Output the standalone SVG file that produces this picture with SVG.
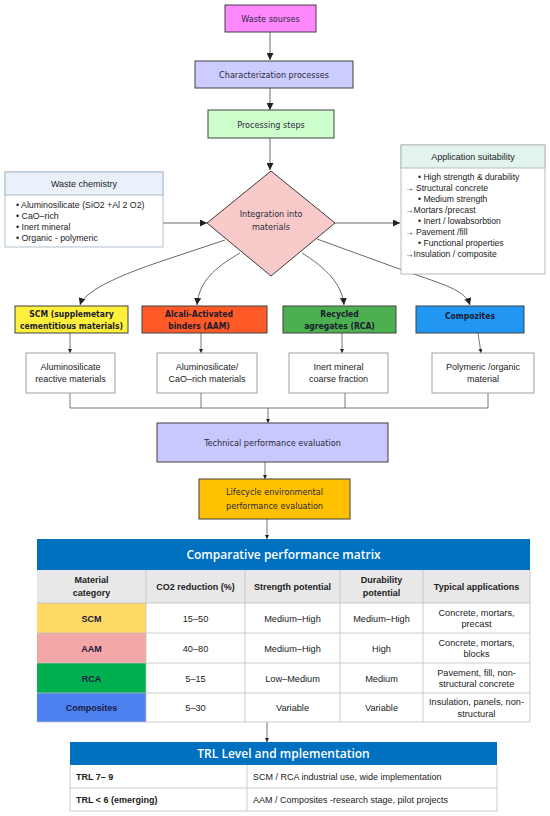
<svg xmlns="http://www.w3.org/2000/svg" width="550" height="816" viewBox="0 0 550 816">
<defs>
<marker id="ah" viewBox="0 0 10 10" refX="10" refY="5" markerWidth="7" markerHeight="7" markerUnits="userSpaceOnUse" orient="auto">
<path d="M0,0 L10,5 L0,10 z" fill="#222"/>
</marker>
<marker id="ahs" viewBox="0 0 10 10" refX="10" refY="5" markerWidth="4" markerHeight="4" markerUnits="userSpaceOnUse" orient="auto">
<path d="M0,0 L10,5 L0,10 z" fill="#222"/>
</marker>
</defs>
<style>
.fb{stroke:#404040;stroke-width:1}
.ft{font-family:"DejaVu Sans Condensed","DejaVu Sans",sans-serif;font-size:9px;fill:#2a2a3a;text-anchor:middle}
.cb{font-family:"DejaVu Sans Condensed","DejaVu Sans",sans-serif;font-size:8.5px;font-weight:bold;fill:#1a1a2e;text-anchor:middle}
.at{font-family:"Liberation Sans",Arial,sans-serif;font-size:9px;fill:#222;text-anchor:middle}
.lt{font-family:"Liberation Sans",Arial,sans-serif;font-size:8.8px;fill:#222}
.la{font-family:"Liberation Sans",Arial,sans-serif;font-size:8.6px;fill:#222}
.sub{fill:#fff;stroke:#888;stroke-width:0.8}
.ln{fill:none;stroke:#444;stroke-width:0.8}
.lnf{fill:none;stroke:#555;stroke-width:0.8}
.tc{fill:none;stroke:#bfbfbf;stroke-width:0.8}
.th{font-family:"Liberation Sans",Arial,sans-serif;font-size:9px;font-weight:bold;fill:#222;text-anchor:middle}
.td{font-family:"Liberation Sans",Arial,sans-serif;font-size:9.2px;fill:#222;text-anchor:middle}
.tk{font-family:"Liberation Sans",Arial,sans-serif;font-size:9px;font-weight:bold;fill:#1a1a40;text-anchor:middle}
.tt{font-family:"Open Sans","Noto Sans",sans-serif;font-size:12px;font-weight:600;fill:#fff;text-anchor:middle}
.tl{font-family:"Liberation Sans",Arial,sans-serif;font-size:9px;fill:#222}
</style>
<rect width="550" height="816" fill="#fff"/>

<g id="connectors">
<line class="ln" x1="270" y1="32" x2="270" y2="60" marker-end="url(#ah)"/>
<line class="ln" x1="270" y1="88" x2="270" y2="110" marker-end="url(#ah)"/>
<line class="ln" x1="270" y1="138" x2="270" y2="170" marker-end="url(#ah)"/>
<line class="ln" x1="163" y1="223" x2="207" y2="223" marker-end="url(#ah)"/>
<line class="ln" x1="335" y1="223" x2="400" y2="223" marker-end="url(#ah)"/>
<path class="ln" d="M225,240 L165,260 Q86,286 80,305" marker-end="url(#ah)"/>
<path class="ln" d="M240,253 C214,268 199,282 197,305" marker-end="url(#ah)"/>
<path class="ln" d="M302,253 C326,268 342,284 344,305" marker-end="url(#ah)"/>
<path class="ln" d="M317,239 L405,271 C445,285 465,290 470,305" marker-end="url(#ah)"/>
<line class="lnf" x1="70" y1="333" x2="70" y2="353" marker-end="url(#ahs)"/>
<line class="lnf" x1="201" y1="333" x2="201" y2="353" marker-end="url(#ahs)"/>
<line class="lnf" x1="342" y1="333" x2="342" y2="353" marker-end="url(#ahs)"/>
<line class="lnf" x1="478" y1="333" x2="481" y2="353" marker-end="url(#ahs)"/>
<path class="lnf" d="M70,393 V408 M201,393 V408 M345,393 V408 M488,393 V408 M70,408 H488"/>
<line class="lnf" x1="268" y1="408" x2="268" y2="423" marker-end="url(#ahs)"/>
<line class="lnf" x1="265" y1="462" x2="265" y2="479" marker-end="url(#ahs)"/>
<line class="lnf" x1="267" y1="519" x2="267" y2="539" marker-end="url(#ahs)"/>
<line class="lnf" x1="267" y1="722" x2="267" y2="742" marker-end="url(#ahs)"/>
</g>

<g id="waste-sources">
<rect class="fb" x="225" y="5" width="91" height="27" fill="#FF88FF"/>
<text class="ft" x="270.5" y="21.5">Waste sourses</text>
</g>
<g id="characterization">
<rect class="fb" x="195" y="61" width="158" height="27" fill="#CCCCFF"/>
<text class="ft" x="274" y="77.5">Characterization processes</text>
</g>
<g id="processing">
<rect class="fb" x="208" y="110" width="126" height="28" fill="#CCFFCC"/>
<text class="ft" x="271" y="127.5">Processing steps</text>
</g>

<g id="waste-chemistry">
<rect x="5" y="172" width="158" height="75" fill="#fff" stroke="#9fb0c4" stroke-width="0.8"/>
<rect x="5" y="172" width="158" height="23" fill="#EAF1FB" stroke="#9fb0c4" stroke-width="0.8"/>
<text class="at" x="84" y="187">Waste chemistry</text>
<text class="lt" x="16" y="208">• Aluminosilicate (SiO2 +Al 2 O2)</text>
<text class="lt" x="16" y="219">• CaO–rich</text>
<text class="lt" x="16" y="230">• Inert mineral</text>
<text class="lt" x="16" y="241">• Organic - polymeric</text>
</g>

<g id="integration">
<polygon points="271,171 335,223 271,276 207,223" fill="#F9CACA" stroke="#3a3a3a" stroke-width="1"/>
<text class="ft" x="271" y="217">Integration into</text>
<text class="ft" x="271" y="230">materials</text>
</g>

<g id="application-suitability">
<rect x="401" y="145" width="144" height="129" fill="#fff" stroke="#aaa" stroke-width="0.8"/>
<rect x="401" y="145" width="144" height="23" fill="#E3F4EE" stroke="#aaa" stroke-width="0.8"/>
<text class="at" x="473" y="160">Application suitability</text>
<text class="la" x="418" y="180">• High strength &amp; durability</text>
<text class="la" x="405" y="191">→ Structural concrete</text>
<text class="la" x="418" y="202">• Medium strength</text>
<text class="la" x="405" y="213">→Mortars /precast</text>
<text class="la" x="418" y="224">• Inert / lowabsorbtion</text>
<text class="la" x="405" y="235">→ Pavement /fill</text>
<text class="la" x="418" y="246">• Functional properties</text>
<text class="la" x="405" y="257">→Insulation / composite</text>
</g>

<g id="scm">
<rect class="fb" x="15" y="306" width="113" height="27" fill="#FFF03C"/>
<text class="cb" x="71.5" y="317">SCM (supplemetary</text>
<text class="cb" x="71.5" y="328.5">cementitious materials)</text>
</g>
<g id="aam">
<rect class="fb" x="142" y="306" width="125" height="27" fill="#FF5A28"/>
<text class="cb" x="199" y="317">Alcali-Activated</text>
<text class="cb" x="199" y="328.5">binders (AAM)</text>
</g>
<g id="rca">
<rect class="fb" x="283" y="306" width="113" height="27" fill="#4CAF50"/>
<text class="cb" x="339.5" y="317">Recycled</text>
<text class="cb" x="339.5" y="328.5">agregates (RCA)</text>
</g>
<g id="compozites">
<rect class="fb" x="416" y="306" width="108" height="27" fill="#2196F3"/>
<text class="cb" x="470" y="319">Compozites</text>
</g>

<g id="scm-sub">
<rect class="sub" x="26" y="353" width="89" height="40"/>
<text class="at" x="70.5" y="370">Aluminosilicate</text>
<text class="at" x="70.5" y="382">reactive materials</text>
</g>
<g id="aam-sub">
<rect class="sub" x="157" y="353" width="100" height="40"/>
<text class="at" x="207" y="370">Aluminosilicate/</text>
<text class="at" x="207" y="382">CaO–rich materials</text>
</g>
<g id="rca-sub">
<rect class="sub" x="289" y="353" width="99" height="40"/>
<text class="at" x="338.5" y="370">Inert  mineral</text>
<text class="at" x="338.5" y="382">coarse fraction</text>
</g>
<g id="compozites-sub">
<rect class="sub" x="432" y="353" width="102" height="40"/>
<text class="at" x="483" y="370">Polymeric /organic</text>
<text class="at" x="483" y="382">material</text>
</g>

<g id="technical-evaluation">
<rect class="fb" x="157" y="423" width="231" height="39" fill="#C8C8FF"/>
<text class="ft" x="272.5" y="446">Technical performance evaluation</text>
</g>
<g id="lifecycle-evaluation">
<rect class="fb" x="199" y="479" width="151" height="40" fill="#FFC000"/>
<text class="ft" x="274.5" y="495">Lifecycle environmental</text>
<text class="ft" x="274.5" y="508.5">performance evaluation</text>
</g>

<g id="performance-matrix">
<rect x="37" y="539" width="493" height="31" fill="#0070C0"/>
<text class="tt" x="283.5" y="559">Comparative performance matrix</text>
<rect x="37" y="570" width="493" height="33" fill="#E8E8E8"/>
<rect x="37" y="603" width="109" height="30" fill="#FFD966"/>
<rect x="37" y="633" width="109" height="30" fill="#F4A7A7"/>
<rect x="37" y="663" width="109" height="30" fill="#00B050"/>
<rect x="37" y="693" width="109" height="29" fill="#4E81F0"/>
<path class="tc" d="M37,603 H530 M37,633 H530 M37,663 H530 M37,693 H530 M37,722 H530 M146,570 V722 M245,570 V722 M340,570 V722 M423,570 V722 M530,570 V722"/>
<text class="th" x="91.5" y="583">Material</text>
<text class="th" x="91.5" y="595.5">category</text>
<text class="th" x="195.5" y="590">CO2 reduction (%)</text>
<text class="th" x="292.5" y="590">Strength potential</text>
<text class="th" x="381.5" y="583">Durability</text>
<text class="th" x="381.5" y="595.5">potential</text>
<text class="th" x="476.5" y="590">Typical applications</text>

<text class="tk" x="91.5" y="621.5">SCM</text>
<text class="td" x="195.5" y="621.5">15–50</text>
<text class="td" x="292.5" y="621.5">Medium–High</text>
<text class="td" x="381.5" y="621.5">Medium–High</text>
<text class="td" x="476.5" y="615.5">Concrete, mortars,</text>
<text class="td" x="476.5" y="627">precast</text>

<text class="tk" x="91.5" y="651.5">AAM</text>
<text class="td" x="195.5" y="651.5">40–80</text>
<text class="td" x="292.5" y="651.5">Medium–High</text>
<text class="td" x="381.5" y="651.5">High</text>
<text class="td" x="476.5" y="645.5">Concrete, mortars,</text>
<text class="td" x="476.5" y="657">blocks</text>

<text class="tk" x="91.5" y="681.5">RCA</text>
<text class="td" x="195.5" y="681.5">5–15</text>
<text class="td" x="292.5" y="681.5">Low–Medium</text>
<text class="td" x="381.5" y="681.5">Medium</text>
<text class="td" x="476.5" y="675.5">Pavement, fill, non-</text>
<text class="td" x="476.5" y="687">structural concrete</text>

<text class="tk" x="91.5" y="711">Composites</text>
<text class="td" x="195.5" y="711">5–30</text>
<text class="td" x="292.5" y="711">Variable</text>
<text class="td" x="381.5" y="711">Variable</text>
<text class="td" x="476.5" y="705">Insulation, panels, non-</text>
<text class="td" x="476.5" y="716.5">structural</text>
</g>

<g id="trl-table">
<rect x="70" y="742" width="427" height="23" fill="#0070C0"/>
<text class="tt" x="283.5" y="758">TRL Level and mplementation</text>
<rect x="70" y="765" width="427" height="46" fill="#fff"/>
<path class="tc" d="M70,765 V811 H497 V765 M70,788 H497 M247,765 V811"/>
<text class="tl" x="76" y="780" font-weight="bold">TRL 7– 9</text>
<text class="tl" x="253" y="780">SCM / RCA industrial use, wide implementation</text>
<text class="tl" x="76" y="803" font-weight="bold">TRL &lt; 6 (emerging)</text>
<text class="tl" x="253" y="803">AAM / Composites -research stage, pilot projects</text>
</g>
</svg>
